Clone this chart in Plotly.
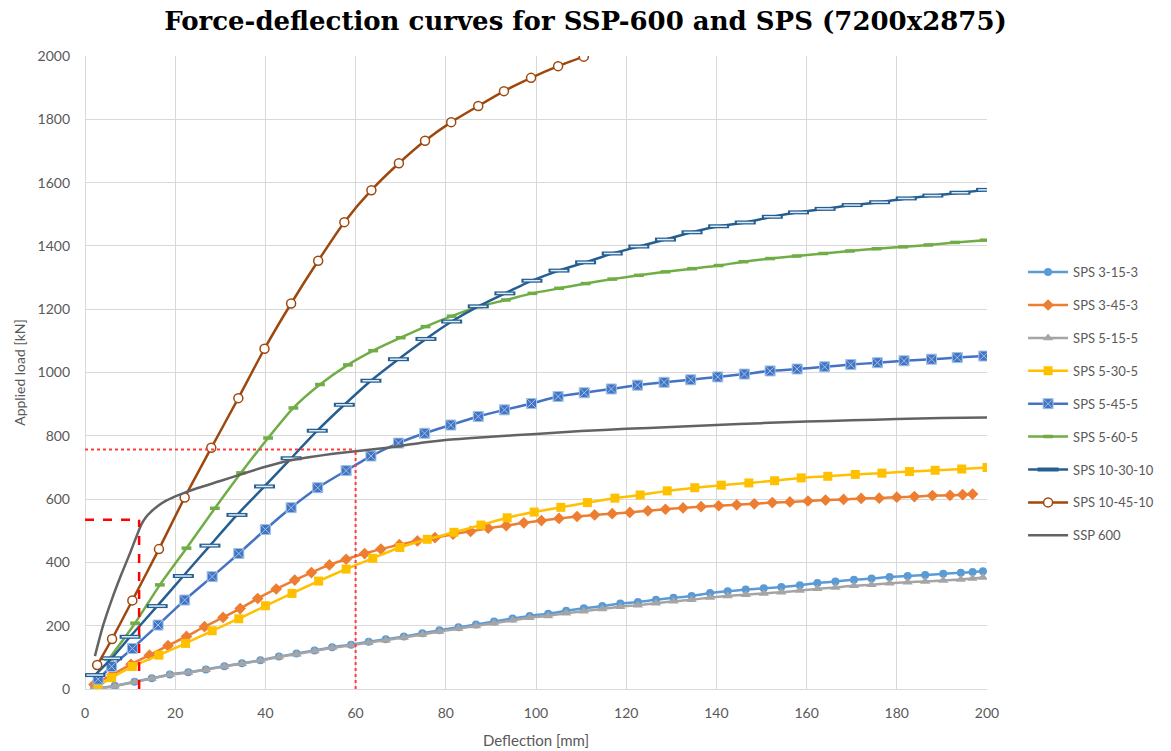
import plotly.graph_objects as go

# ---- data: deflection [mm] / applied load [kN] ----
sps_3_15_3_x = [2.0, 6.6, 11.0, 14.8, 18.8, 22.9, 26.8, 30.9, 34.8, 38.9, 43.0, 46.9, 50.9, 54.8, 59.0,
                62.9, 66.7, 70.7, 74.8, 78.6, 82.8, 86.7, 90.7, 94.8, 98.6, 102.7, 106.7, 110.6, 114.7,
                118.7, 122.6, 126.6, 130.5, 134.5, 138.6, 142.5, 146.5, 150.5, 154.4, 158.5, 162.4,
                166.4, 170.5, 174.4, 178.4, 182.4, 186.3, 190.3, 194.2, 196.8, 199.1]
sps_3_15_3_y = [0, 10, 23, 34, 46, 53, 62, 72, 81, 91, 103, 112, 122, 132, 140, 149, 157, 166, 176, 186,
                195, 204, 213, 223, 231, 238, 247, 255, 262, 270, 275, 282, 288, 294, 303, 309, 314, 318,
                322, 328, 335, 340, 345, 349, 354, 357, 360, 364, 367, 370, 372]

sps_5_15_5_x = sps_3_15_3_x
sps_5_15_5_y = [0, 9, 22, 33, 45, 52, 61, 71, 80, 90, 101, 110, 120, 130, 138, 147, 154, 163, 172, 182,
                191, 199, 208, 217, 225, 231, 239, 246, 253, 260, 265, 271, 277, 282, 289, 294, 298, 302,
                306, 311, 317, 321, 326, 329, 334, 337, 340, 343, 346, 349, 352]

sps_3_45_3_x = [2.0, 6.0, 10.2, 14.3, 18.4, 22.5, 26.5, 30.6, 34.4, 38.3, 42.4, 46.5, 50.2, 54.2, 57.9,
                62.0, 65.6, 69.7, 73.7, 77.6, 81.6, 85.5, 89.4, 93.4, 97.3, 101.2, 105.1, 109.1, 113.0,
                116.9, 120.8, 124.8, 128.7, 132.6, 136.6, 140.5, 144.5, 148.4, 152.4, 156.3, 160.3,
                164.2, 168.2, 172.1, 176.1, 180.0, 183.9, 187.9, 191.8, 194.6, 196.8]
sps_3_45_3_y = [14, 45, 78, 107, 137, 166, 197, 226, 254, 286, 316, 344, 368, 392, 410, 428, 442, 456,
                468, 478, 489, 498, 508, 516, 525, 532, 539, 545, 550, 554, 558, 563, 568, 572, 576, 579,
                582, 585, 589, 591, 594, 597, 599, 602, 603, 606, 608, 611, 612, 614, 616]

sps_5_30_5_x = [2.9, 5.9, 10.5, 16.4, 22.3, 28.2, 34.1, 40.0, 45.9, 51.8, 57.9, 63.8, 69.8, 75.9, 81.8,
                87.8, 93.6, 99.6, 105.5, 111.4, 117.5, 123.1, 129.1, 135.2, 141.1, 147.2, 152.9, 158.8,
                164.7, 170.8, 176.7, 182.8, 188.5, 194.4, 200.0]
sps_5_30_5_y = [9, 36, 71, 107, 144, 184, 222, 263, 302, 341, 379, 413, 447, 473, 495, 518, 541, 559,
                574, 589, 603, 613, 626, 636, 644, 651, 658, 667, 672, 678, 682, 687, 691, 695, 700]

sps_5_45_5_x = [2.9, 5.9, 10.5, 16.2, 22.1, 28.2, 34.1, 40.0, 45.7, 51.6, 57.9, 63.4, 69.5, 75.3, 81.1,
                87.2, 93.0, 99.0, 104.9, 110.7, 116.7, 122.5, 128.4, 134.3, 140.3, 146.2, 151.9, 157.9,
                164.0, 169.8, 175.7, 181.6, 187.7, 193.4, 199.3]
sps_5_45_5_y = [31, 71, 128, 202, 281, 355, 428, 504, 573, 636, 690, 736, 777, 808, 834, 861, 882, 902,
                924, 936, 948, 960, 969, 977, 986, 995, 1005, 1011, 1018, 1025, 1031, 1037, 1042, 1047, 1052]

sps_5_60_5_x = [5.3, 11.1, 16.6, 22.5, 28.8, 34.6, 40.6, 46.2, 52.1, 58.3, 63.9, 70.0, 75.5, 81.3, 87.2,
                93.3, 99.2, 105.1, 111.0, 116.9, 122.8, 128.7, 134.6, 140.5, 146.0, 151.9, 157.8, 163.7,
                169.6, 175.5, 181.4, 187.0, 192.9, 199.5]
sps_5_60_5_y = [95, 208, 329, 445, 571, 683, 793, 888, 962, 1024, 1069, 1110, 1145, 1178, 1208, 1229,
                1250, 1266, 1281, 1295, 1307, 1318, 1328, 1338, 1350, 1360, 1368, 1376, 1384, 1391, 1397,
                1403, 1411, 1418]

sps_10_30_10_x = [2.2, 5.9, 10.0, 16.0, 21.8, 27.7, 33.7, 39.8, 45.7, 51.5, 57.5, 63.4, 69.5, 75.6, 81.3,
                  87.2, 93.1, 99.1, 105.1, 111.0, 116.9, 122.8, 128.7, 134.6, 140.5, 146.4, 152.4, 158.2,
                  164.1, 170.1, 176.2, 182.1, 188.0, 194.0, 199.9]
sps_10_30_10_y = [44, 97, 165, 262, 357, 453, 550, 640, 729, 816, 898, 974, 1042, 1106, 1161, 1209, 1250,
                  1290, 1322, 1348, 1376, 1398, 1420, 1443, 1462, 1474, 1492, 1506, 1517, 1529, 1538, 1550,
                  1559, 1568, 1577]

sps_10_45_10_x = [2.7, 6.0, 10.5, 16.4, 22.1, 28.0, 34.0, 39.8, 45.7, 51.7, 57.5, 63.5, 69.6, 75.4, 81.2,
                  87.2, 92.9, 98.9, 104.9, 110.6]
sps_10_45_10_y = [76, 158, 280, 442, 605, 762, 919, 1075, 1218, 1353, 1475, 1576, 1661, 1732, 1791, 1842,
                  1889, 1931, 1968, 1998]

ssp_600_x = [2.2, 4, 6, 8, 10, 11.5, 12.5, 13.5, 14.5, 16, 18, 21, 25, 30, 35, 40, 45, 50, 55, 60, 65,
             70, 75, 80, 90, 100, 110, 120, 130, 140, 150, 160, 170, 180, 190, 200]
ssp_600_y = [104, 200, 285, 360, 430, 485, 520, 543, 558, 577, 595, 614, 635, 657, 680, 702, 721, 733,
             743, 751, 759, 768, 779, 787, 797, 806, 815, 822, 828, 834, 840, 845, 849, 853, 856, 858]

# reference points marked on the SSP 600 curve
yield_disp, yield_load = 12, 535
serv_disp, serv_load = 60, 757

x_ticks = list(range(0, 201, 20))
y_ticks = list(range(0, 2001, 200))

TXT = "#595959"
FONT = "Lato"

fig = go.Figure()


def add_series(name, x, y, color, symbol=None, size=8, fill=None, mline=None, mwidth=0, group=None):
    marker = dict(symbol=symbol or "circle", size=size, color=fill or color,
                  line=dict(color=mline or color, width=mwidth))
    fig.add_trace(go.Scatter(
        x=x, y=y, name=name, legendgroup=group or name,
        mode="lines+markers" if symbol else "lines",
        line=dict(color=color, width=2.5, shape="spline", smoothing=0.6),
        marker=marker,
    ))


add_series("SPS 3-15-3", sps_3_15_3_x, sps_3_15_3_y, "#5B9BD5", "circle", 8)
add_series("SPS 3-45-3", sps_3_45_3_x, sps_3_45_3_y, "#ED7D31", "diamond", 9)
add_series("SPS 5-15-5", sps_5_15_5_x, sps_5_15_5_y, "#A5A5A5", "triangle-up", 9)
add_series("SPS 5-30-5", sps_5_30_5_x, sps_5_30_5_y, "#FFC000", "square", 9)
add_series("SPS 5-45-5", sps_5_45_5_x, sps_5_45_5_y, "#4472C4", "square-x", 10,
           fill="#4472C4", mline="#9DC3E6", mwidth=1)
add_series("SPS 5-60-5", sps_5_60_5_x, sps_5_60_5_y, "#70AD47", "line-ew", 7, mwidth=3.5)
add_series("SPS 10-30-10", sps_10_30_10_x, sps_10_30_10_y, "#255E91", "line-ew", 15, mwidth=4)
# light inner face of the dash markers on SPS 10-30-10
fig.add_trace(go.Scatter(
    x=sps_10_30_10_x, y=sps_10_30_10_y, mode="markers", showlegend=False,
    legendgroup="SPS 10-30-10", hoverinfo="skip",
    marker=dict(symbol="line-ew", size=12, color="#DDEBF7", line=dict(color="#DDEBF7", width=1.5)),
))
add_series("SPS 10-45-10", sps_10_45_10_x, sps_10_45_10_y, "#9E480E", "circle", 9,
           fill="white", mline="#9E480E", mwidth=1.5)
add_series("SSP 600", ssp_600_x, ssp_600_y, "#636363")

red = "#FF0000"
fig.add_shape(type="line", x0=0, x1=yield_disp, y0=yield_load, y1=yield_load,
              xref="x", yref="y", line=dict(color=red, width=2.5, dash="dash"))
fig.add_shape(type="line", x0=yield_disp, x1=yield_disp, y0=0, y1=yield_load,
              xref="x", yref="y", line=dict(color=red, width=2.5, dash="dash"))
fig.add_shape(type="line", x0=0, x1=serv_disp, y0=serv_load, y1=serv_load,
              xref="x", yref="y", line=dict(color="#FF3B3B", width=2, dash="dot"))
fig.add_shape(type="line", x0=serv_disp, x1=serv_disp, y0=0, y1=serv_load,
              xref="x", yref="y", line=dict(color="#FF3B3B", width=2, dash="dot"))

fig.update_layout(
    width=1171, height=751,
    margin=dict(l=85, r=182, t=56, b=62),
    paper_bgcolor="white", plot_bgcolor="white",
    font=dict(family=FONT, size=13, color=TXT),
    title=dict(text="<b>Force-deflection curves for SSP-600 and SPS (7200x2875)</b>",
               x=0.5, xref="container", xanchor="center", y=0.972, yanchor="middle",
               font=dict(family="DejaVu Serif", size=26, color="black")),
    legend=dict(x=1.04, xanchor="left", y=0.45, yanchor="middle",
                font=dict(family=FONT, size=13, color=TXT),
                tracegroupgap=13, itemwidth=40, bgcolor="rgba(0,0,0,0)"),
    showlegend=True,
)
fig.update_xaxes(
    range=[0, 200], tickvals=x_ticks, ticks="", showline=False, automargin=False,
    showgrid=True, gridcolor="#D9D9D9", gridwidth=1, zeroline=True, zerolinecolor="#D9D9D9",
    zerolinewidth=1, ticklabelstandoff=14, tickfont=dict(size=14),
    title=dict(text="Deflection [mm]", standoff=15, font=dict(size=15, color=TXT)),
)
fig.update_yaxes(
    range=[0, 2000], tickvals=y_ticks, ticks="", showline=False, automargin=False,
    showgrid=True, gridcolor="#D9D9D9", gridwidth=1, zeroline=True, zerolinecolor="#D9D9D9",
    zerolinewidth=1, ticklabelstandoff=14, tickfont=dict(size=14),
    title=dict(text="Applied load [kN]", standoff=8, font=dict(size=14, color=TXT)),
)

fig.write_html("out.html")
